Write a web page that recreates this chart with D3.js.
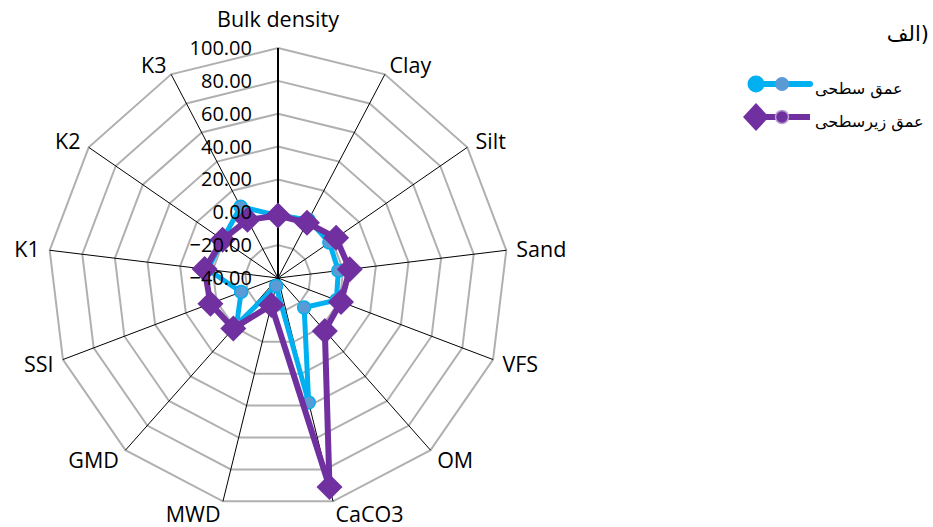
<!DOCTYPE html>
<html>
<head>
<meta charset="utf-8">
<script src="https://cdn.jsdelivr.net/npm/d3@7"></script>
<style>
  body { margin: 0; background: #fff; }
  svg { display: block; }
</style>
</head>
<body>
<script>
// soil properties around the radar
var categories = ["Bulk density", "Clay", "Silt", "Sand", "VFS", "OM", "CaCO3",
                  "MWD", "GMD", "SSI", "K1", "K2", "K3"];

// surface depth
var surface = [-2, 0, -2, -3, -2, -16, 38, -35, -2, -16, 3, 1, 9];
// subsurface depth
var subsurface = [-2, -2, 3, 4, 1, 3, 91, -23, 1, 4, 5, 1, 0];

var tickValues = [-40, -20, 0, 20, 40, 60, 80, 100];
var seriesNames = ["عمق سطحی", "عمق زیرسطحی"];
var title = "الف)";

var width = 933,
    height = 527,
    cx = 278,
    cy = 278,
    radius = 230;

var svg = d3.select("body")
    .append("svg")
    .attr("width", width)
    .attr("height", height);

var r = d3.scaleLinear()
    .domain([-40, 100])
    .range([0, radius]);

var angle = d3.scaleLinear()
    .domain([0, categories.length])
    .range([0, 2 * Math.PI]);

function pt(i, v){
    var a = angle(i);
    return [cx + r(v) * Math.sin(a), cy - r(v) * Math.cos(a)];
}

var g = svg.append("g");

//grid rings
g.selectAll(".ring")
    .data(tickValues.filter(function(t){ return t > -40; }))
    .enter()
    .append("polygon")
    .attr("class", "ring")
    .attr("points", function(t){
        return categories.map(function(c, i){ return pt(i, t).join(","); }).join(" ");
    })
    .attr("fill", "none")
    .attr("stroke", "#b0b0b0")
    .attr("stroke-width", 2);

//spokes
g.selectAll(".spoke")
    .data(categories)
    .enter()
    .append("line")
    .attr("class", "spoke")
    .attr("x1", cx)
    .attr("y1", cy)
    .attr("x2", function(d, i){ return pt(i, 100)[0]; })
    .attr("y2", function(d, i){ return pt(i, 100)[1]; })
    .attr("stroke", "#000")
    .attr("stroke-width", function(d, i){ return i === 0 ? 2 : 1; });

//series
var line = d3.lineRadial()
    .angle(function(d, i){ return angle(i); })
    .radius(function(d){ return r(d); })
    .curve(d3.curveLinearClosed);

var plot = g.append("g").attr("transform", "translate(" + cx + "," + cy + ")");

plot.append("path")
    .datum(surface)
    .attr("d", line)
    .attr("fill", "none")
    .attr("stroke", "#00b0f0")
    .attr("stroke-width", 5)
    .attr("stroke-linejoin", "round");

plot.selectAll(".dot")
    .data(surface)
    .enter()
    .append("circle")
    .attr("class", "dot")
    .attr("cx", function(d, i){ return r(d) * Math.sin(angle(i)); })
    .attr("cy", function(d, i){ return -r(d) * Math.cos(angle(i)); })
    .attr("r", 6.5)
    .attr("fill", "#5b9bd5")
    .attr("stroke", "#00b0f0")
    .attr("stroke-width", 1.5);

plot.append("path")
    .datum(subsurface)
    .attr("d", line)
    .attr("fill", "none")
    .attr("stroke", "#7030a0")
    .attr("stroke-width", 6)
    .attr("stroke-linejoin", "round");

var diamond = "M0,-13L13,0L0,13L-13,0Z";

plot.selectAll(".dia")
    .data(subsurface)
    .enter()
    .append("path")
    .attr("class", "dia")
    .attr("d", diamond)
    .attr("transform", function(d, i){
        return "translate(" + (r(d) * Math.sin(angle(i))) + "," + (-r(d) * Math.cos(angle(i))) + ")";
    })
    .attr("fill", "#7030a0");

//tick labels on the top axis
g.selectAll(".tick")
    .data(tickValues)
    .enter()
    .append("text")
    .attr("class", "tick")
    .attr("x", cx - 26)
    .attr("y", function(t){ return cy - r(t); })
    .attr("dy", "0.35em")
    .attr("text-anchor", "end")
    .style("font-family", "'Open Sans', sans-serif")
    .style("font-size", "20px")
    .text(d3.format(".2f"));

//category labels
g.selectAll(".cat")
    .data(categories)
    .enter()
    .append("text")
    .attr("class", "cat")
    .attr("x", function(d, i){
        return pt(i, 100)[0] + Math.sin(angle(i)) * 10;
    })
    .attr("y", function(d, i){
        var dy = -Math.cos(angle(i));
        if (i === 0) return pt(i, 100)[1] - 29;
        return pt(i, 100)[1] + dy * (dy > 0 ? 14 : 10);
    })
    .attr("dy", "0.35em")
    .attr("text-anchor", function(d, i){
        var s = Math.sin(angle(i));
        return Math.abs(s) < 0.01 ? "middle" : (s > 0 ? "start" : "end");
    })
    .style("font-family", "'Open Sans', sans-serif")
    .style("font-size", "21.5px")
    .text(function(d){ return d; });

//title
svg.append("text")
    .attr("x", 929)
    .attr("y", 34)
    .attr("dy", "0.35em")
    .attr("text-anchor", "end")
    .style("font-family", "'DejaVu Sans', sans-serif")
    .style("font-size", "21px")
    .text(title);

//legend
var legend = svg.append("g");

legend.append("line")
    .attr("x1", 755).attr("x2", 810)
    .attr("y1", 84).attr("y2", 84)
    .attr("stroke", "#00b0f0")
    .attr("stroke-width", 6)
    .attr("stroke-linecap", "round");
legend.append("circle")
    .attr("cx", 756).attr("cy", 84).attr("r", 8.5)
    .attr("fill", "#00b0f0");
legend.append("circle")
    .attr("cx", 782).attr("cy", 84).attr("r", 7)
    .attr("fill", "#5b9bd5");

legend.append("line")
    .attr("x1", 755).attr("x2", 810)
    .attr("y1", 117).attr("y2", 117)
    .attr("stroke", "#7030a0")
    .attr("stroke-width", 6);
legend.append("path")
    .attr("d", "M0,-14L13,0L0,14L-13,0Z")
    .attr("transform", "translate(756,117)")
    .attr("fill", "#7030a0");
legend.append("circle")
    .attr("cx", 782).attr("cy", 117).attr("r", 6.5)
    .attr("fill", "#7030a0")
    .attr("stroke", "#b9a0d0")
    .attr("stroke-width", 1.5);

legend.selectAll(".ltext")
    .data(seriesNames)
    .enter()
    .append("text")
    .attr("class", "ltext")
    .attr("x", 815)
    .attr("y", function(d, i){ return 88 + i * 33; })
    .attr("dy", "0.35em")
    .attr("text-anchor", "start")
    .style("font-family", "'DejaVu Sans', sans-serif")
    .style("font-size", "16px")
    .text(function(d){ return d; });
</script>
</body>
</html>
